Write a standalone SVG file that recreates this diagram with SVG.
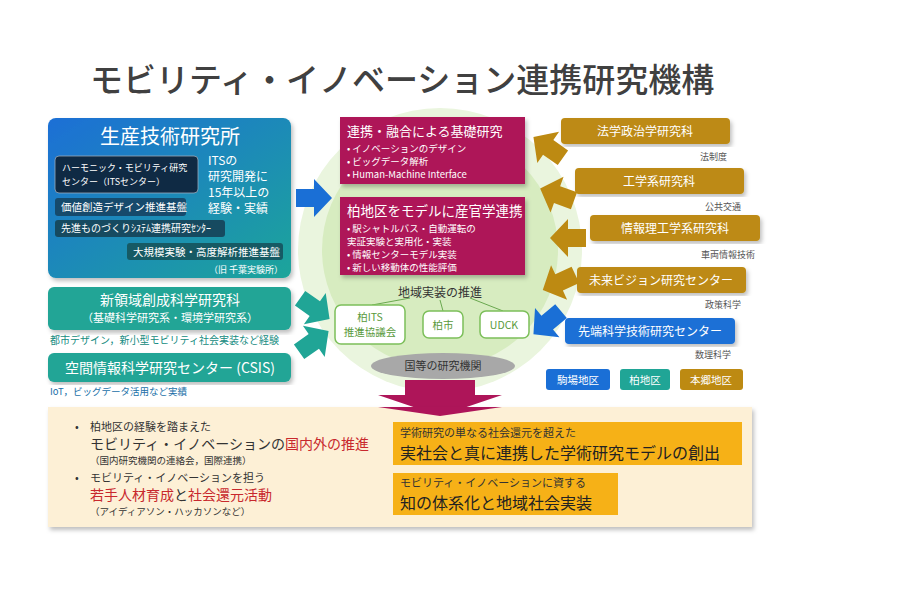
<svg xmlns="http://www.w3.org/2000/svg" width="900" height="600" viewBox="0 0 900 600">
<defs>
<linearGradient id="gb" x1="0" y1="0" x2="1" y2="1"><stop offset="0" stop-color="#1a6fd6"/><stop offset="1" stop-color="#1aa59a"/></linearGradient>
<path id="ar" d="M-17,-9 L1,-9 L1,-19 L19,0 L1,19 L1,9 L-17,9 Z"/>
<filter id="sh" x="-5%" y="-5%" width="110%" height="115%"><feDropShadow dx="2" dy="3" stdDeviation="2" flood-color="#000" flood-opacity="0.25"/></filter>
</defs>
<style>
text{font-family:"Noto Sans CJK JP","Noto Sans",sans-serif}
.w{fill:#fff}
.wb{fill:#fff;stroke:#7cbf5a;stroke-width:1.5}
.red{fill:#c8282d}
</style>
<rect width="900" height="600" fill="#fff"/>
<text x="90" y="92" font-size="33" fill="#404040" font-weight="500">モビリティ・イノベーション連携研究機構</text>

<g id="circle">
<circle cx="440" cy="250" r="142" fill="#eaf5de"/>
<circle cx="440" cy="250" r="118" fill="#d7ecc0"/>
</g>

<g id="iis">
<rect x="48" y="118" width="243" height="160" rx="8" fill="url(#gb)" filter="url(#sh)"/>
<text x="170" y="144" font-size="20" class="w" text-anchor="middle">生産技術研究所</text>
<rect x="55" y="156" width="143" height="37" rx="4" fill="#0f2a44" stroke="#9ab" stroke-width="0.8"/>
<text x="62" y="171" font-size="9" class="w">ハーモニック・モビリティ研究</text>
<text x="62" y="185" font-size="9" class="w">センター（ITSセンター）</text>
<text x="208" y="165" font-size="12" class="w">ITSの</text>
<text x="208" y="181" font-size="12" class="w">研究開発に</text>
<text x="208" y="197" font-size="12" class="w">15年以上の</text>
<text x="208" y="213" font-size="12" class="w">経験・実績</text>
<rect x="55" y="198" width="131" height="18" rx="3" fill="#164a6c"/>
<text x="61" y="211" font-size="10.5" class="w">価値創造デザイン推進基盤</text>
<rect x="55" y="220" width="170" height="17" rx="3" fill="#164a60"/>
<text x="61" y="232" font-size="10" class="w">先進ものづくりｼｽﾃﾑ連携研究ｾﾝﾀｰ</text>
<rect x="127" y="243" width="156" height="17" rx="3" fill="#165a64"/>
<text x="133" y="256" font-size="10.5" class="w">大規模実験・高度解析推進基盤</text>
<text x="283" y="273" font-size="9" class="w" text-anchor="end">（旧 千葉実験所）</text>
</g>

<g id="gsfs">
<rect x="48" y="287" width="243" height="43" rx="6" fill="#20a596" filter="url(#sh)"/>
<text x="170" y="305" font-size="14" class="w" text-anchor="middle">新領域創成科学研究科</text>
<text x="170" y="322" font-size="11" class="w" text-anchor="middle">（基礎科学研究系・環境学研究系）</text>
<text x="50" y="344" font-size="10" fill="#138a80">都市デザイン，新小型モビリティ社会実装など経験</text>
</g>
<g id="csis">
<rect x="48" y="353" width="243" height="29" rx="6" fill="#20a596" filter="url(#sh)"/>
<text x="170" y="373" font-size="14" class="w" text-anchor="middle">空間情報科学研究センター (CSIS)</text>
<text x="50" y="395" font-size="9.5" fill="#1a6fa8">IoT，ビッグデータ活用など実績</text>
</g>

<g id="basic">
<rect x="340" y="117" width="185" height="67" fill="#ae1559" filter="url(#sh)"/>
<text x="347" y="136" font-size="13" class="w">連携・融合による基礎研究</text>
<text x="347" y="152" font-size="9.5" class="w">•   イノベーションのデザイン</text>
<text x="347" y="165" font-size="9.5" class="w">•   ビッグデータ解析</text>
<text x="347" y="178" font-size="9.5" class="w">•   Human-Machine Interface</text>
</g>
<g id="kashiwa">
<rect x="340" y="197" width="185" height="78" fill="#ae1559" filter="url(#sh)"/>
<text x="347" y="216" font-size="13.5" class="w">柏地区をモデルに産官学連携</text>
<text x="347" y="232" font-size="9.5" class="w">•   駅シャトルバス・自動運転の</text>
<text x="347" y="245" font-size="9.5" class="w">     実証実験と実用化・実装</text>
<text x="347" y="258" font-size="9.5" class="w">•   情報センターモデル実装</text>
<text x="347" y="271" font-size="9.5" class="w">•   新しい移動体の性能評価</text>
</g>

<g id="connectors" stroke="#6aa84f" stroke-width="1" fill="none">
<line x1="410" y1="298" x2="372" y2="305"/>
<line x1="440" y1="300" x2="443" y2="311"/>
<line x1="470" y1="298" x2="503" y2="311"/>
</g>
<text x="440" y="297" font-size="12" fill="#333" text-anchor="middle">地域実装の推進</text>
<g id="its"><rect x="335" y="305" width="70" height="39" rx="6" class="wb"/>
<text x="370" y="321" font-size="10.5" fill="#5a9a3c" text-anchor="middle">柏ITS</text>
<text x="370" y="336" font-size="10.5" fill="#5a9a3c" text-anchor="middle">推進協議会</text></g>
<g id="city"><rect x="423" y="311" width="40" height="27" rx="6" class="wb"/>
<text x="443" y="329" font-size="10.5" fill="#5a9a3c" text-anchor="middle">柏市</text></g>
<g id="udck"><rect x="480" y="311" width="49" height="27" rx="6" class="wb"/>
<text x="504" y="329" font-size="10.5" fill="#5a9a3c" text-anchor="middle">UDCK</text></g>
<g id="nat"><ellipse cx="443" cy="366" rx="72" ry="13" fill="#a8a8a8"/>
<text x="443" y="370" font-size="11" fill="#333" text-anchor="middle">国等の研究機関</text></g>

<g id="law"><rect x="561" y="118" width="169" height="26" rx="4" fill="#bd8a12" filter="url(#sh)"/>
<text x="645" y="136" font-size="12" class="w" text-anchor="middle">法学政治学研究科</text>
<text x="727" y="160" font-size="9" fill="#555" text-anchor="end">法制度</text></g>
<g id="eng"><rect x="575" y="168" width="169" height="26" rx="4" fill="#bd8a12" filter="url(#sh)"/>
<text x="659" y="186" font-size="12" class="w" text-anchor="middle">工学系研究科</text>
<text x="741" y="210" font-size="9" fill="#555" text-anchor="end">公共交通</text></g>
<g id="ist"><rect x="590" y="215" width="170" height="26" rx="4" fill="#bd8a12" filter="url(#sh)"/>
<text x="675" y="233" font-size="12" class="w" text-anchor="middle">情報理工学系研究科</text>
<text x="755" y="258" font-size="9" fill="#555" text-anchor="end">車両情報技術</text></g>
<g id="ifi"><rect x="577" y="267" width="169" height="26" rx="4" fill="#bd8a12" filter="url(#sh)"/>
<text x="661" y="285" font-size="12" class="w" text-anchor="middle">未来ビジョン研究センター</text>
<text x="741" y="308" font-size="9" fill="#555" text-anchor="end">政策科学</text></g>
<g id="rcast"><rect x="565" y="318" width="170" height="26" rx="4" fill="#1a6fd6" filter="url(#sh)"/>
<text x="650" y="336" font-size="12" class="w" text-anchor="middle">先端科学技術研究センター</text>
<text x="731" y="358" font-size="9" fill="#555" text-anchor="end">数理科学</text></g>
<g id="legend">
<rect x="546" y="369" width="64" height="21" rx="3" fill="#1a6fd6"/><text x="578" y="384" font-size="10.5" class="w" text-anchor="middle">駒場地区</text>
<rect x="620" y="369" width="50" height="21" rx="3" fill="#20a596"/><text x="645" y="384" font-size="10.5" class="w" text-anchor="middle">柏地区</text>
<rect x="680" y="369" width="63" height="21" rx="3" fill="#bd8a12"/><text x="711" y="384" font-size="10.5" class="w" text-anchor="middle">本郷地区</text>
</g>

<g id="arrows">
<use href="#ar" transform="translate(313,198)" fill="#1a6fd6"/>
<use href="#ar" transform="translate(314,308) rotate(35)" fill="#20a596"/>
<use href="#ar" transform="translate(313,342) rotate(-35)" fill="#20a596"/>
<use href="#ar" transform="translate(549,148) rotate(215)" fill="#bd8a12"/>
<use href="#ar" transform="translate(558,195) rotate(200)" fill="#bd8a12"/>
<use href="#ar" transform="translate(569,238) rotate(180)" fill="#bd8a12"/>
<use href="#ar" transform="translate(560,282) rotate(155)" fill="#bd8a12"/>
<use href="#ar" transform="translate(548,322) rotate(140)" fill="#1a6fd6"/>
<path d="M405,380 L475,380 L475,395 L502,395 L440,416 L378,395 L405,395 Z" fill="#ae1559"/>
</g>

<g id="outcome">
<rect x="48" y="407" width="704" height="120" fill="#fdf0d6" filter="url(#sh)"/>
<path d="M378,407 L502,407 L440,416 Z" fill="#ae1559"/>
<text x="75" y="431" font-size="11" fill="#333">•</text>
<text x="90" y="431" font-size="11" fill="#333">柏地区の経験を踏まえた</text>
<text x="90" y="449" font-size="14" fill="#333">モビリティ・イノベーションの<tspan class="red">国内外の推進</tspan></text>
<text x="90" y="464" font-size="9.5" fill="#333">（国内研究機関の連絡会，国際連携）</text>
<text x="75" y="482" font-size="11" fill="#333">•</text>
<text x="90" y="482" font-size="11" fill="#333">モビリティ・イノベーションを担う</text>
<text x="90" y="500" font-size="14" fill="#333"><tspan class="red">若手人材育成</tspan>と<tspan class="red">社会還元活動</tspan></text>
<text x="90" y="515" font-size="9.5" fill="#333">（アイディアソン・ハッカソンなど）</text>
<rect x="393" y="422" width="349" height="43" fill="#f6b117"/>
<text x="400" y="437" font-size="11" fill="#333">学術研究の単なる社会還元を超えた</text>
<text x="400" y="459" font-size="16" fill="#222">実社会と真に連携した学術研究モデルの創出</text>
<rect x="393" y="473" width="225" height="42" fill="#f6b117"/>
<text x="400" y="487" font-size="11" fill="#333">モビリティ・イノベーションに資する</text>
<text x="400" y="509" font-size="16" fill="#222">知の体系化と地域社会実装</text>
</g>
</svg>
